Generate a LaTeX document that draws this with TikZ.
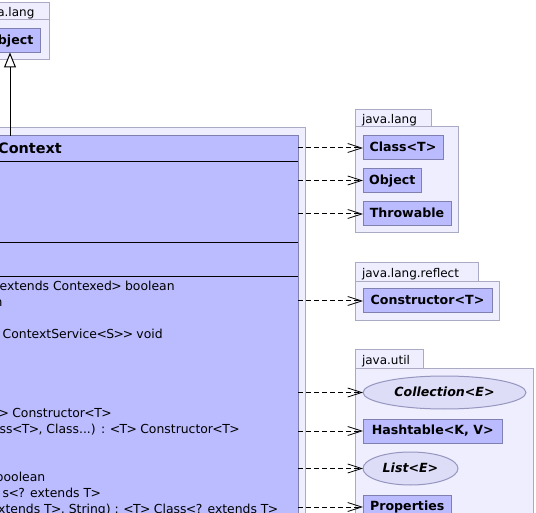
\documentclass[tikz,border=0pt]{standalone}
\usepackage{fontspec}
\setmainfont{DejaVu Sans}[BoldFont={DejaVu Sans Bold},ItalicFont={DejaVu Sans Oblique},BoldItalicFont={DejaVu Sans Bold Oblique}]
\usetikzlibrary{arrows.meta,shapes.geometric}
\definecolor{clsfill}{RGB}{187,187,255}
\definecolor{clsborder}{RGB}{128,128,176}
\definecolor{pkgfill}{RGB}{238,238,255}
\definecolor{pkgborder}{RGB}{170,170,196}
\definecolor{ellfill}{RGB}{221,221,248}
\definecolor{ellborder}{RGB}{150,150,190}
\newcommand\myLT{\kern-0.6pt<\kern-0.6pt}
\newcommand\myGT{\kern-0.6pt>\kern-0.6pt}
\tikzset{
  pkg/.style={draw=pkgborder, fill=pkgfill, line width=1pt, inner sep=0pt, outer sep=0pt, anchor=north west},
  pkgtab/.style={pkg, font=\fontsize{12pt}{14pt}\selectfont, inner xsep=7pt, inner ysep=0pt, align=left, minimum height=17pt, text height=12.5pt, text depth=1.5pt},
  clsbox/.style={draw=clsborder, fill=clsfill, line width=1pt, inner sep=0pt, outer sep=0pt, anchor=north west, minimum height=24pt, text height=10pt, text depth=2.6pt, font=\bfseries\fontsize{12.6pt}{14pt}\selectfont},
  ifcbox/.style={ellipse, draw=ellborder, fill=ellfill, line width=1pt, inner sep=0pt, outer sep=0pt, minimum height=33pt, text height=10pt, text depth=2.2pt, font=\bfseries\itshape\fontsize{12.6pt}{14pt}\selectfont},
  bigcls/.style={draw=clsborder, fill=clsfill, line width=1pt, inner sep=0pt, outer sep=0pt, anchor=north west},
  dep/.style={draw=black, line width=1pt, dash pattern=on 5pt off 3pt, -{Straight Barb[length=14pt,width=9pt,line width=0.8pt]}},
  inh/.style={draw=black, line width=1pt, -{Triangle[length=15pt,width=12pt,fill=white]}},
  mtext/.style={anchor=base west, inner sep=0pt, font=\fontsize{12.4pt}{15.9pt}\selectfont},
  divider/.style={draw=black, line width=1pt},
}
\begin{document}
\begin{tikzpicture}[x=1pt,y=-1pt]
\clip (0,0) rectangle (536,513);
\useasboundingbox (0,0) rectangle (536,513);

% ---- top-left package java.lang with Object
\node[pkg, minimum width=76.5pt, minimum height=40pt] (topbody) at (-27.5,20) {};
\node[pkgtab, text width=62.5pt] (toptab) at (-27.5,3) {java.lang};
\node[clsbox, minimum width=59.5pt] (obj) at (-19.5,28.5) {Object};

% ---- big package with the Context class
\node[pkg, minimum width=315pt, minimum height=402pt] (bigpkg) at (-10,128) {};
\node[bigcls, minimum width=308pt, minimum height=394pt] (ctx) at (-10,136) {};
\draw[divider] (-10,162) -- (298,162);
\draw[divider] (-10,243) -- (298,243);
\draw[divider] (-10,277) -- (298,277);
\node[anchor=base west, inner sep=0pt, font=\bfseries\fontsize{14.4pt}{16pt}\selectfont] (title) at (-2,154) {Context};

\node[mtext] (m0) at (-0.5,290.5) {extends Contexed\myGT{} boolean};
\node[mtext] (m1) at (-5.5,306.4) {n};
\node[mtext] (m3) at (2.5,338.2) {ContextService\myLT{}S\myGT\myGT{} void};
\node[mtext] (m8) at (-1,417.7) {\myGT{} Constructor\myLT{}T\myGT};
\node[mtext] (m9) at (-0.5,433.6) {ss\myLT{}T\myGT, Class...) : \myLT{}T\myGT{} Constructor\myLT{}T\myGT};
\node[mtext] (m12) at (-4.5,481.3) {boolean};
\node[mtext] (m13) at (2.5,497.2) {s\myLT?{} extends T\myGT};
\node[mtext] (m14) at (-2,513.1) {xtends T\myGT, String) : \myLT{}T\myGT{} Class\myLT?{} extends T\myGT};

% inheritance
\coordinate (inhstart) at (10,136);
\draw[inh] (inhstart) -- (inhstart |- obj.south);

% ---- java.lang (right)
\node[pkg, minimum width=103pt, minimum height=106pt] (jlbody) at (355,127) {};
\node[pkgtab, text width=62.5pt] (jltab) at (355,110) {java.lang};
\node[clsbox, minimum width=80pt] (cclass) at (363,136) {Class<T>};
\node[clsbox, minimum width=58.5pt] (cobject) at (363,168.5) {Object};
\node[clsbox, minimum width=88pt] (cthrow) at (363,202) {Throwable};

% ---- java.lang.reflect
\node[pkg, minimum width=144pt, minimum height=39.5pt] (jrbody) at (355,281.5) {};
\node[pkgtab, text width=109pt, minimum height=18.5pt] (jrtab) at (355,263) {java.lang.reflect};
\node[clsbox, minimum width=129pt] (ccons) at (363,289) {Constructor<T>};

% ---- java.util
\node[pkg, minimum width=178pt, minimum height=170pt] (jubody) at (355,368) {};
\node[pkgtab, text width=54.5pt, minimum height=18pt] (jutab) at (355,350) {java.util};
\node[ifcbox, minimum width=163pt] (ccoll) at (444.5,392.5) {Collection<E>};
\node[clsbox, minimum width=139.5pt] (chash) at (363,419) {Hashtable<K, V>};
\node[ifcbox, minimum width=95pt] (clist) at (410.5,468.5) {List<E>};
\node[clsbox, minimum width=88.5pt] (cprop) at (363,495) {Properties};

% ---- dependencies
\draw[dep] (ctx.east |- cclass.west) -- (cclass.west);
\draw[dep] (ctx.east |- cobject.west) -- (cobject.west);
\draw[dep] (ctx.east |- cthrow.west) -- (cthrow.west);
\draw[dep] (ctx.east |- ccons.west) -- (ccons.west);
\draw[dep] (ctx.east |- ccoll.west) -- (ccoll.west);
\draw[dep] (ctx.east |- chash.west) -- (chash.west);
\draw[dep] (ctx.east |- clist.west) -- (clist.west);
\draw[dep] (ctx.east |- cprop.west) -- (cprop.west);
\end{tikzpicture}
\end{document}
